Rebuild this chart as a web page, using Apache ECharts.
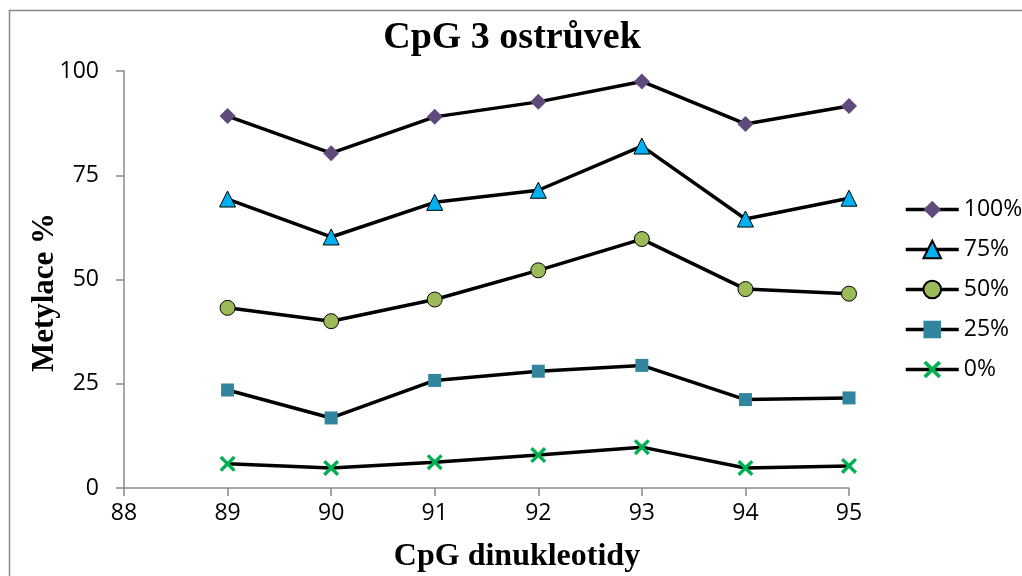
<!DOCTYPE html>
<html>
<head>
<meta charset="utf-8">
<script src="https://cdn.jsdelivr.net/npm/echarts@6/dist/echarts.min.js"></script>
<style>
  html, body { margin: 0; padding: 0; background: #fff; }
  #chart { width: 1022px; height: 576px; }
</style>
</head>
<body>
<div id="chart"></div>
<script>
// CpG positions on the x axis
const positions = [89, 90, 91, 92, 93, 94, 95];

// Methylation level (%) per standard
const seriesNames = ['100%', '75%', '50%', '25%', '0%'];
const values100 = [89.2, 80.3, 89.0, 92.6, 97.5, 87.3, 91.6];
const values75  = [69.3, 60.2, 68.5, 71.4, 82.0, 64.5, 69.5];
const values50  = [43.2, 40.0, 45.2, 52.2, 59.7, 47.7, 46.6];
const values25  = [23.5, 16.8, 25.8, 28.0, 29.4, 21.2, 21.6];
const values0   = [5.8, 4.8, 6.2, 7.9, 9.8, 4.8, 5.3];

const yTicks = [0, 25, 50, 75, 100];

// thick "x" marker
const crossPath = 'path://M0,2.4L2.4,0L8,5.6L13.6,0L16,2.4L10.4,8L16,13.6L13.6,16L8,10.4L2.4,16L0,13.6L5.6,8Z';

const styles = [
  { symbol: 'diamond',   size: 16, color: '#604A7B', border: 0 },
  { symbol: 'triangle',  size: 16, color: '#00B0F0', border: 1 },
  { symbol: 'circle',    size: 15, color: '#9BBB59', border: 1 },
  { symbol: 'rect',      size: 13, color: '#31859C', border: 0 },
  { symbol: crossPath,   size: 16, color: '#00B050', border: 0 }
];
const allValues = [values100, values75, values50, values25, values0];

const series = seriesNames.map((name, i) => ({
  name: name,
  type: 'line',
  data: positions.map((x, j) => [x, allValues[i][j]]),
  symbol: styles[i].symbol,
  symbolSize: styles[i].size,
  showAllSymbol: true,
  lineStyle: { color: '#000', width: 3.5 },
  itemStyle: {
    color: styles[i].color,
    borderColor: '#000',
    borderWidth: styles[i].border
  },
  emphasis: { disabled: true },
  z: 10 - i
}));

const chart = echarts.init(document.getElementById('chart'), null, { renderer: 'canvas' });
const axisGray = '#898989';
const sans = '"Open Sans", "Liberation Sans", sans-serif';
const serif = '"Liberation Serif", "Times New Roman", serif';

chart.setOption({
  animation: false,
  backgroundColor: '#fff',
  graphic: [{
    type: 'rect',
    shape: { x: 9.5, y: 10.5, width: 1100, height: 700 },
    style: { fill: 'none', stroke: axisGray, lineWidth: 1.5 },
    silent: true
  }],
  title: [{
    text: 'CpG 3 ostrůvek',
    left: 507,
    top: 14,
    textAlign: 'center',
    textStyle: { fontFamily: serif, fontWeight: 'bold', fontSize: 38, color: '#000' }
  }, {
    text: 'CpG dinukleotidy',
    left: 512,
    top: 536,
    textAlign: 'center',
    textStyle: { fontFamily: serif, fontWeight: 'bold', fontSize: 32, color: '#000' }
  }],
  legend: {
    orient: 'vertical',
    left: 899,
    top: 193,
    itemWidth: 53,
    itemHeight: 22,
    itemGap: 17,
    data: seriesNames,
    lineStyle: { color: '#000', width: 3.5 },
    textStyle: { fontFamily: sans, fontSize: 23, color: '#000' },
    selectedMode: false
  },
  grid: { left: 124, right: 173, top: 71, bottom: 88, containLabel: false },
  xAxis: {
    type: 'value',
    min: 88,
    max: 95,
    interval: 1,
    axisLine: { show: true, lineStyle: { color: axisGray, width: 1.5 } },
    axisTick: { show: true, length: 8, inside: false, lineStyle: { color: axisGray, width: 1.5 } },
    axisLabel: { fontFamily: sans, fontSize: 23, color: '#000', margin: 14 },
    splitLine: { show: false }
  },
  yAxis: {
    type: 'value',
    min: yTicks[0],
    max: yTicks[yTicks.length - 1],
    interval: 25,
    name: 'Metylace %',
    nameLocation: 'middle',
    nameGap: 64,
    nameMoveOverlap: false,
    nameRotate: 90,
    nameTextStyle: { fontFamily: serif, fontWeight: 'bold', fontSize: 31, color: '#000', padding: [0, 26, 0, 0] },
    axisLine: { show: true, lineStyle: { color: axisGray, width: 1.5 } },
    axisTick: { show: true, length: 8, inside: false, lineStyle: { color: axisGray, width: 1.5 } },
    axisLabel: { fontFamily: sans, fontSize: 23, color: '#000', margin: 25 },
    splitLine: { show: false }
  },
  series: series
});
</script>
</body>
</html>
